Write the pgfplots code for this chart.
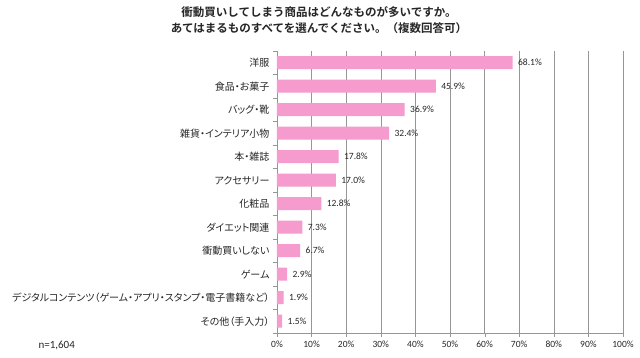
\documentclass[border=0pt]{standalone}
\usepackage{pgfplots}
\pgfplotsset{compat=1.18}
\usepackage{fontspec}
\setmainfont{Carlito}
\newfontfamily\jp{Noto Sans CJK JP}[RawFeature=+palt]
\newfontfamily\jpb{Noto Sans CJK JP Bold}
\definecolor{barpink}{RGB}{245,155,205}
\definecolor{gridgray}{RGB}{150,150,150}
\begin{document}
\begin{tikzpicture}
\useasboundingbox (0pt,0pt) rectangle (640pt,358pt);
\fill[white] (0pt,0pt) rectangle (640pt,358pt);
\node[font=\jpb\fontsize{11.5}{16}\selectfont, align=center, text=black!85] at (319pt,338pt) {衝動買いしてしまう商品はどんなものが多いですか。\\あてはまるものすべてを選んでください。（複数回答可）};
\node[font=\fontsize{11}{12}\selectfont, anchor=west, text=black!85] at (35pt,13pt) {n=1,604};
\begin{axis}[
  at={(277pt,25pt)}, anchor=south west,
  width=346pt, height=282pt, scale only axis,
  xmin=0, xmax=100, ymin=-0.5, ymax=11.5,
  axis x line*=bottom, axis y line*=left,
  axis line style={gridgray},
  xmajorgrids, grid style={gridgray},
  xtick={0,10,...,100},
  xticklabels={0\%,10\%,20\%,30\%,40\%,50\%,60\%,70\%,80\%,90\%,100\%},
  ytick={0,...,11},
  yticklabels={その他（手入力）,デジタルコンテンツ（ゲーム・アプリ・スタンプ・電子書籍など）,ゲーム,衝動買いしない,ダイエット関連,化粧品,アクセサリー,本・雑誌,雑貨・インテリア小物,バッグ・靴,食品・お菓子,洋服},
  minor ytick={-0.5,0.5,...,11.5},
  tick align=outside, major tick length=4pt, minor tick length=4pt,
  tick style={gridgray},
  major y tick style={draw=none},
  xticklabel style={font=\fontsize{9.5}{10}\selectfont, text=black!85},
  yticklabel style={font=\jp\fontsize{10}{11}\selectfont, text=black!85},
  /pgf/number format/assume math mode=true,
  xbar, bar width=13pt,
  nodes near coords={\pgfmathprintnumber[fixed,fixed zerofill,precision=1]{\pgfplotspointmeta}\%},
  nodes near coords style={font=\fontsize{9.5}{10}\selectfont, text=black!85, anchor=west, xshift=2pt},
]
\addplot[fill=barpink, draw=none] coordinates {(1.5,0) (1.9,1) (2.9,2) (6.7,3) (7.3,4) (12.8,5) (17.0,6) (17.8,7) (32.4,8) (36.9,9) (45.9,10) (68.1,11)};
\end{axis}
\end{tikzpicture}
\end{document}
